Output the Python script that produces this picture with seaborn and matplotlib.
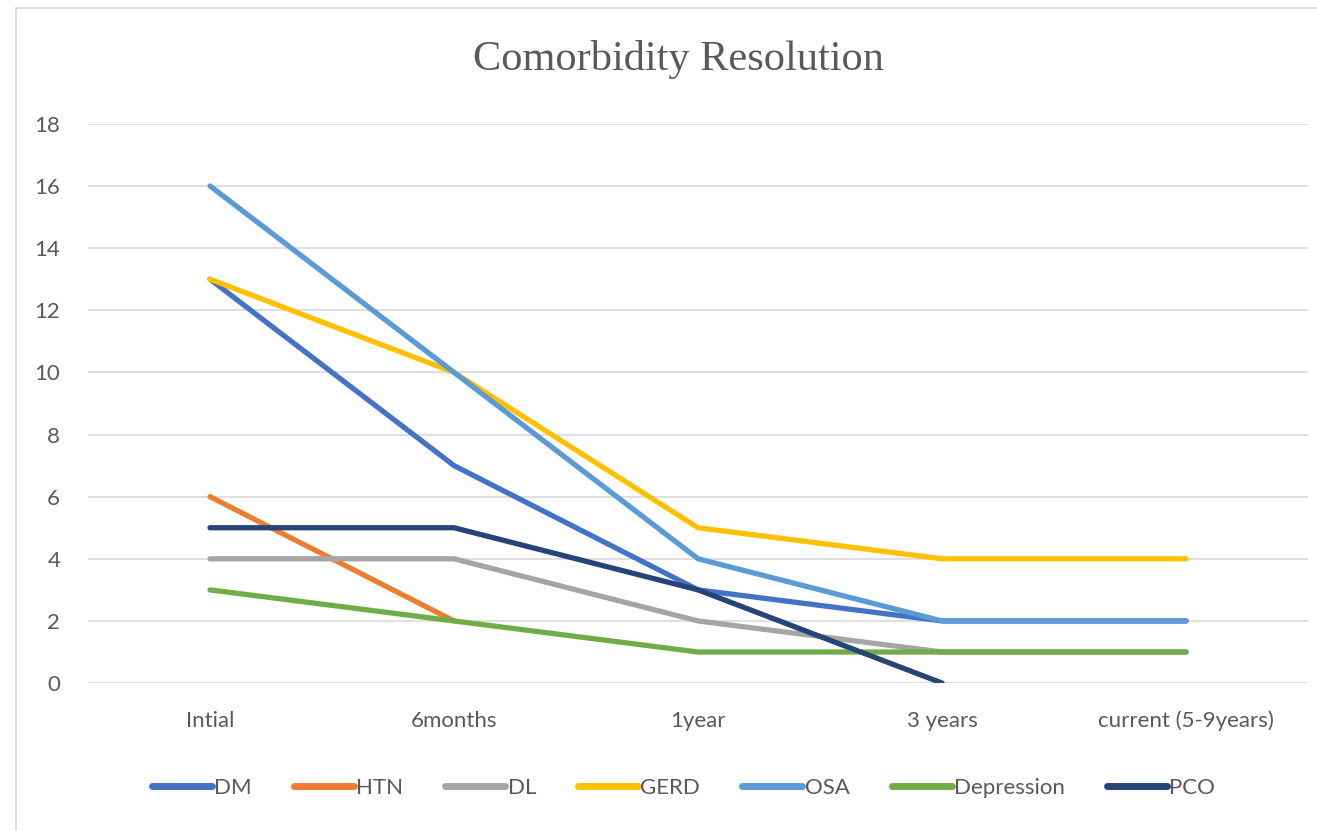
import numpy as np
import pandas as pd
import seaborn as sns
import matplotlib.pyplot as plt
from matplotlib.patches import Rectangle

# Follow-up time points
stages = ["Intial", "6months", "1year", "3 years", "current (5-9years)"]

# Number of patients with each comorbidity at each time point
dm = [13, 7, 3, 2, 2]
htn = [6, 2, np.nan, np.nan, np.nan]
dl = [4, 4, 2, 1, 1]
gerd = [13, 10, 5, 4, 4]
osa = [16, 10, 4, 2, 2]
depression = [3, 2, 1, 1, 1]
pco = [5, 5, 3, 0, np.nan]

series = {
    "DM": dm, "HTN": htn, "DL": dl, "GERD": gerd,
    "OSA": osa, "Depression": depression, "PCO": pco,
}
colors = {
    "DM": "#4472C4", "HTN": "#ED7D31", "DL": "#A5A5A5", "GERD": "#FFC000",
    "OSA": "#5B9BD5", "Depression": "#70AD47", "PCO": "#264478",
}

rows = []
for name, vals in series.items():
    for i, v in enumerate(vals):
        rows.append({"stage": i, "condition": name, "count": v})
df = pd.DataFrame(rows).dropna()

sns.set_theme(style="white")
plt.rcParams["font.family"] = ["Lato", "DejaVu Sans"]

fig = plt.figure(figsize=(13.17, 8.31), dpi=100)
ax = fig.add_axes([0.0668, 0.178, 0.9265, 0.673])

sns.lineplot(data=df, x="stage", y="count", hue="condition",
             hue_order=list(series.keys()), palette=colors,
             linewidth=3.8, ax=ax, legend=False, sort=False,
             solid_capstyle="round", solid_joinstyle="round")

ax.set_xlim(-0.5, 4.5)
ax.set_ylim(0, 18)
ax.set_yticks(range(0, 19, 2))
ax.set_xticks(range(len(stages)))
ax.set_xticklabels(stages)
ax.grid(axis="y", color="#D9D9D9", linewidth=1.2)
ax.set_axisbelow(True)
for s in ax.spines.values():
    s.set_visible(False)
ax.tick_params(axis="both", length=0, labelsize=16, colors="#595959")
ax.tick_params(axis="y", pad=20)
ax.tick_params(axis="x", pad=20)
ax.set_xlabel("")
ax.set_ylabel("")

fig.text(0.515, 0.929, "Comorbidity Resolution", ha="center", va="center",
         fontsize=30.5, color="#595959", family="Liberation Serif")

handles = [plt.Line2D([], [], color=colors[k], linewidth=5,
                      solid_capstyle="round") for k in series]
fig.legend(handles, list(series.keys()), loc="center", ncol=7,
           bbox_to_anchor=(0.519, 0.052), frameon=False, fontsize=16,
           handlelength=2.7, handletextpad=0.1, columnspacing=1.9,
           labelcolor="#595959")

# Chart area border
fig.add_artist(Rectangle((16 / 1317, -0.01), 1.2, 1 - 8 / 831 + 0.01,
                         transform=fig.transFigure, fill=False,
                         edgecolor="#D9D9D9", linewidth=1.2))

fig.savefig("out.png", dpi=100, facecolor="white")
